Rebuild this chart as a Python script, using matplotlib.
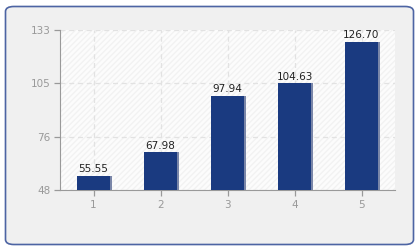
import matplotlib
matplotlib.use("Agg")
import matplotlib.pyplot as plt
from matplotlib.patches import FancyBboxPatch, Rectangle

# chart data
categories = [1, 2, 3, 4, 5]
values = [55.55, 67.98, 97.94, 104.63, 126.70]
y_ticks = [48, 76, 105, 133]

W, H = 420, 250
fig = plt.figure(figsize=(W / 100, H / 100), dpi=100)
fig.patch.set_facecolor("white")

# outer rounded panel
panel = FancyBboxPatch((5.5 / W, 5.5 / H), 408 / W, 238 / H,
                       boxstyle="round,pad=0,rounding_size=0.02",
                       transform=fig.transFigure, facecolor="#f0f0f0",
                       edgecolor="#4d64a3", linewidth=1.2, zorder=-10)
fig.add_artist(panel)

# plot area: x 60..395, y 30..190 (pixels from top)
ax = fig.add_axes([60 / W, 1 - 190 / H, 335 / W, 160 / H])
ax.set_zorder(1)
ax.set_facecolor("white")
ax.add_patch(Rectangle((0, 0), 1, 1, transform=ax.transAxes, facecolor="#fcfcfc",
                       edgecolor="#f2f2f2", hatch="//////", linewidth=0, zorder=0))

ax.set_xlim(0.5, 5.5)
ax.set_ylim(48, 133)
ax.set_xticks(categories)
ax.set_yticks(y_ticks)

ax.grid(True, color="#e2e2e2", linestyle=(0, (4, 3)), linewidth=0.9, zorder=1)
ax.set_axisbelow(True)

# shadow then bars
ax.bar([c + 0.02 for c in categories], [v - 48 for v in values], width=0.5, bottom=48,
       color="#7a86a8", zorder=2)
bars = ax.bar(categories, [v - 48 for v in values], width=0.5, bottom=48,
              color="#1a3a80", zorder=3)
for c, v in zip(categories, values):
    ax.text(c, v + 0.8, f"{v:.2f}", ha="center", va="bottom", fontsize=7.5,
            color="#222222", zorder=4)

for s in ["top", "right"]:
    ax.spines[s].set_visible(False)
ax.spines["left"].set_color("#999999")
ax.spines["bottom"].set_color("#999999")
ax.tick_params(axis="both", colors="#999999", labelcolor="#999999", labelsize=7.5,
               length=4, width=0.9)
ax.tick_params(axis="y", pad=3)

fig.savefig("out.png", dpi=100)
